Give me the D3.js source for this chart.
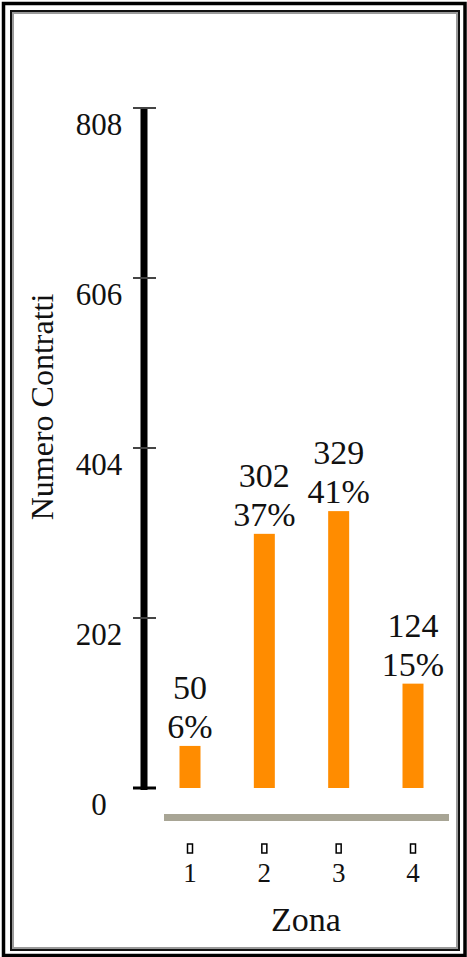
<!DOCTYPE html>
<html>
<head>
<meta charset="utf-8">
<script src="https://cdn.jsdelivr.net/npm/d3@7"></script>
<style>
  html, body { margin: 0; padding: 0; background: #fff; }
  svg { display: block; }
  text { font-family: "Liberation Serif", "Times New Roman", serif; fill: #111; }
</style>
</head>
<body>
<script>
const categories = ["1", "2", "3", "4"];
const values = [50, 302, 329, 124];
const percents = ["6%", "37%", "41%", "15%"];
const yTicks = [0, 202, 404, 606, 808];
const yTitle = "Numero Contratti";
const xTitle = "Zona";

const W = 467, H = 957;
const svg = d3.select("body").append("svg").attr("width", W).attr("height", H);

// frame
svg.append("rect").attr("x", 3.5).attr("y", 3.5).attr("width", 461.5).attr("height", 952)
  .attr("fill", "none").attr("stroke", "#000").attr("stroke-width", 3.5);
svg.append("rect").attr("x", 11).attr("y", 11).attr("width", 448).attr("height", 939)
  .attr("fill", "none").attr("stroke", "#111").attr("stroke-width", 2);
svg.append("rect").attr("x", 13).attr("y", 13).attr("width", 444).attr("height", 935)
  .attr("fill", "none").attr("stroke", "#9a9a9a").attr("stroke-width", 2);

const y = d3.scaleLinear().domain([0, 808]).range([788, 108]);
const x = d3.scalePoint().domain(categories).range([190, 413]);
const barW = 21;
const axisX = 144;

// y axis line
svg.append("line").attr("x1", axisX).attr("x2", axisX)
  .attr("y1", y(808) - 1).attr("y2", y(0) + 2)
  .attr("stroke", "#000").attr("stroke-width", 7);

// tick caps and labels
const tg = svg.append("g").selectAll("g").data(yTicks).join("g");
tg.append("line").attr("x1", axisX - 11).attr("x2", axisX + 12)
  .attr("y1", d => y(d)).attr("y2", d => y(d))
  .attr("stroke", d => d === 0 ? "#000" : "#444")
  .attr("stroke-width", d => d === 0 ? 3 : 2);
tg.append("text").attr("x", 99).attr("y", d => y(d) + 27)
  .attr("text-anchor", "middle").attr("font-size", 31).text(d => d);

// y title
svg.append("text").attr("transform", "translate(53,407) rotate(-90)")
  .attr("text-anchor", "middle").attr("font-size", 32).text(yTitle);

// bars
svg.append("g").selectAll("rect").data(values).join("rect")
  .attr("x", (d, i) => x(categories[i]) - barW / 2)
  .attr("y", d => y(d)).attr("width", barW)
  .attr("height", d => y(0) - y(d))
  .attr("fill", "#ff8c00");

// value labels
const vl = svg.append("g").selectAll("g").data(values).join("g");
vl.append("text").attr("x", (d, i) => x(categories[i])).attr("y", d => y(d) - 47)
  .attr("text-anchor", "middle").attr("font-size", 34).text(d => d);
vl.append("text").attr("x", (d, i) => x(categories[i])).attr("y", d => y(d) - 8)
  .attr("text-anchor", "middle").attr("font-size", 34).text((d, i) => percents[i]);

// baseline
svg.append("line").attr("x1", 164).attr("x2", 449).attr("y1", 817.5).attr("y2", 817.5)
  .attr("stroke", "#a8a595").attr("stroke-width", 7);

// x category markers and labels
const cg = svg.append("g").selectAll("g").data(categories).join("g");
cg.append("rect").attr("x", d => x(d) - 2.5).attr("y", 844).attr("width", 5).attr("height", 9)
  .attr("fill", "#fff").attr("stroke", "#000").attr("stroke-width", 1.5);
cg.append("text").attr("x", d => x(d)).attr("y", 882)
  .attr("text-anchor", "middle").attr("font-size", 27).text(d => d);

svg.append("text").attr("x", 306).attr("y", 931).attr("text-anchor", "middle")
  .attr("font-size", 34).text(xTitle);
</script>
</body>
</html>
